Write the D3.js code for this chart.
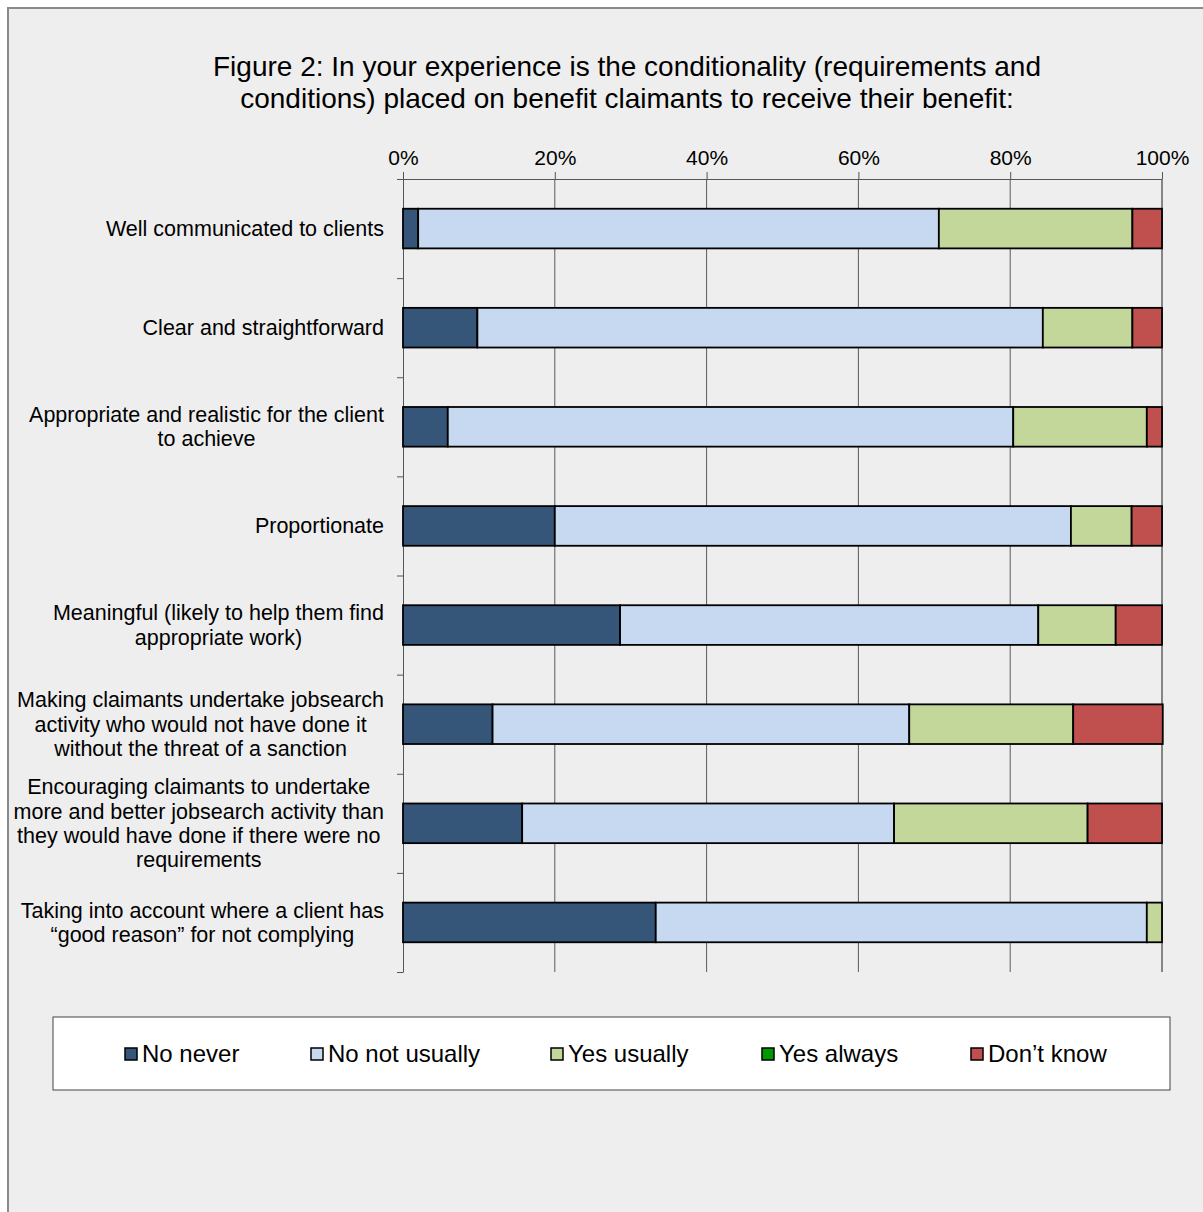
<!DOCTYPE html>
<html>
<head>
<meta charset="utf-8">
<script src="https://cdn.jsdelivr.net/npm/d3@7"></script>
<style>
  html, body { margin: 0; padding: 0; background: #ffffff; }
  svg { display: block; font-family: "Liberation Sans", Arial, sans-serif; }
</style>
</head>
<body>
<svg id="chart" width="1203" height="1212"></svg>
<script>
// Survey statements (line breaks as they wrap on the chart)
const categories = [
  "Well communicated to clients",
  "Clear and straightforward",
  "Appropriate and realistic for the client\nto achieve",
  "Proportionate",
  "Meaningful (likely to help them find\nappropriate work)",
  "Making claimants undertake jobsearch\nactivity who would not have done it\nwithout the threat of a sanction",
  "Encouraging claimants to undertake\nmore and better jobsearch activity than\nthey would have done if there were no\nrequirements",
  "Taking into account where a client has\n\u201cgood reason\u201d for not complying"
];

// Response shares (%) per statement
const noNever      = [2.0,  9.8,  5.9, 20.0, 28.6, 11.8, 15.7, 33.3];
const noNotUsually = [68.6, 74.5, 74.5, 68.0, 55.1, 54.9, 49.0, 64.7];
const yesUsually   = [25.5, 11.8, 17.6,  8.0, 10.2, 21.6, 25.5,  2.0];
const yesAlways    = [0,    0,    0,    0,    0,    0,    0,    0];
const dontKnow     = [3.9,  3.9,  2.0,  4.0,  6.1, 11.8,  9.8,  0];

const seriesNames = ["No never", "No not usually", "Yes usually", "Yes always", "Don\u2019t know"];
const seriesColors = ["#355679", "#c6d9f1", "#c4d79b", "#009900", "#c0504d"];
const tickValues = [0, 20, 40, 60, 80, 100];

const titleLines = [
  "Figure 2: In your experience is the conditionality (requirements and",
  "conditions) placed on benefit claimants to receive their benefit:"
];

const svg = d3.select("#chart");

// chart frame
svg.append("rect")
  .attr("x", 8).attr("y", 8).attr("width", 1240).attr("height", 1250)
  .attr("fill", "#eeeeee").attr("stroke", "#8a8a8a").attr("stroke-width", 2);

// title
svg.append("g").selectAll("text").data(titleLines).join("text")
  .attr("x", 627).attr("y", (d, i) => 76 + i * 32)
  .attr("text-anchor", "middle").attr("font-size", 28).attr("fill", "#000")
  .text(d => d);

const plot = { left: 403, right: 1162, top: 179, bottom: 972 };

const x = d3.scaleLinear().domain([0, 100]).range([plot.left, plot.right]);
const y = d3.scaleBand().domain(d3.range(categories.length))
  .range([plot.top, plot.bottom]).paddingInner(0.6).paddingOuter(0.3);

// vertical gridlines
svg.append("g").selectAll("line").data(tickValues.filter(v => v > 0)).join("line")
  .attr("x1", d => x(d)).attr("x2", d => x(d))
  .attr("y1", plot.top).attr("y2", plot.bottom)
  .attr("stroke", d => d === 100 ? "#858585" : "#5a5a5a")
  .attr("stroke-width", d => d === 100 ? 2 : 1);

// top percentage axis
const xAxis = svg.append("g")
  .attr("transform", `translate(0,${plot.top})`)
  .call(d3.axisTop(x).tickValues(tickValues).tickFormat(d => d + "%").tickSize(7).tickSizeOuter(0));
xAxis.select(".domain").attr("stroke", "#555").attr("d", `M${plot.left - 6},0.5H${plot.right}`);
xAxis.selectAll(".tick line").attr("stroke", "#555");
xAxis.selectAll(".tick text")
  .attr("font-family", "Liberation Sans, Arial, sans-serif")
  .attr("font-size", 21).attr("fill", "#000").attr("dy", "-0.2em");

// left category axis (ticks at band boundaries)
const yb = d3.scaleLinear().domain([0, categories.length]).range([plot.top, plot.bottom]);
const yAxis = svg.append("g")
  .attr("transform", `translate(${plot.left},0)`)
  .call(d3.axisLeft(yb).tickValues(d3.range(categories.length + 1)).tickFormat("").tickSize(6).tickSizeOuter(0));
yAxis.select(".domain").attr("stroke", "#555");
yAxis.selectAll(".tick line").attr("stroke", "#555");

// stacked bars
const rows = categories.map((c, i) => ({
  idx: i,
  "No never": noNever[i],
  "No not usually": noNotUsually[i],
  "Yes usually": yesUsually[i],
  "Yes always": yesAlways[i],
  "Don\u2019t know": dontKnow[i]
}));
const stacked = d3.stack().keys(seriesNames)(rows);

svg.append("g").selectAll("g").data(stacked).join("g")
  .attr("fill", (d, i) => seriesColors[i])
  .selectAll("rect").data(d => d.filter(s => s[1] - s[0] > 0)).join("rect")
  .attr("x", d => x(d[0]))
  .attr("width", d => x(d[1]) - x(d[0]))
  .attr("y", d => y(d.data.idx))
  .attr("height", y.bandwidth())
  .attr("stroke", "#000").attr("stroke-width", 1.8);

// category labels: lines centred on each other, block right-aligned
const labelRight = 384;
const labels = svg.append("g");
categories.forEach((c, i) => {
  const lines = c.split("\n");
  const g = labels.append("g");
  const texts = g.selectAll("text").data(lines).join("text")
    .attr("font-size", 21.5).attr("fill", "#000")
    .attr("text-anchor", "middle")
    .text(d => d);
  let maxW = 0;
  texts.each(function () { maxW = Math.max(maxW, this.getComputedTextLength()); });
  const cy = y(i) + y.bandwidth() / 2;
  const lh = 24.3;
  const first = cy - (lines.length - 1) * lh / 2;
  texts.attr("x", labelRight - maxW / 2)
    .attr("y", (d, k) => first + k * lh)
    .attr("dy", "0.35em");
});

// legend
svg.append("rect")
  .attr("x", 53).attr("y", 1017).attr("width", 1117).attr("height", 73)
  .attr("fill", "#ffffff").attr("stroke", "#444").attr("stroke-width", 1);

const legendX = [125, 311, 551, 762, 971];
const legend = svg.append("g").selectAll("g").data(seriesNames).join("g")
  .attr("transform", (d, i) => `translate(${legendX[i]},1054)`);
legend.append("rect")
  .attr("x", 0).attr("y", -6).attr("width", 12).attr("height", 12)
  .attr("fill", (d, i) => seriesColors[i]).attr("stroke", "#000").attr("stroke-width", 1.5);
legend.append("text")
  .attr("x", 17).attr("y", 0).attr("dy", "0.35em")
  .attr("font-size", 24).attr("fill", "#000")
  .text(d => d);
</script>
</body>
</html>
